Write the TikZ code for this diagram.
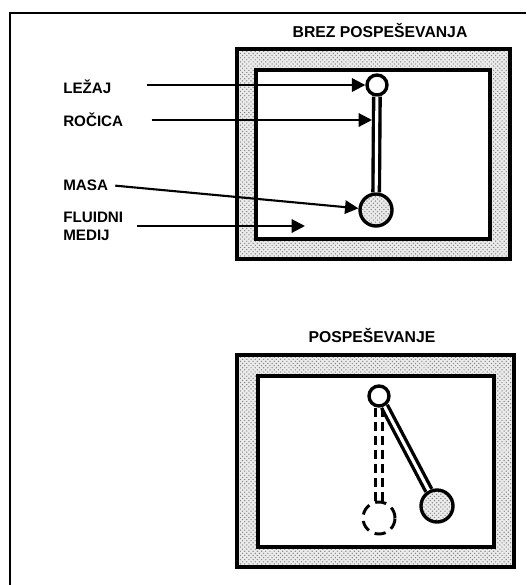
\documentclass[tikz,border=0pt]{standalone}
\usepackage{fontspec}
\setmainfont{Liberation Sans}
\usetikzlibrary{positioning,patterns,arrows.meta}

\begin{document}
\begin{tikzpicture}[x=0.025cm,y=-0.025cm,>={Triangle[length=9.5pt,width=9.5pt]},
  tag/.style = {inner sep = 0pt, anchor = west, font = \fontsize{10.8}{12}\bfseries},
  head/.style = {inner sep = 0pt, font = \fontsize{11.2}{12}\bfseries},
  stipple/.style = {preaction = {fill = black!8}, pattern = crosshatch dots, pattern color = black!50},
  wall/.style = {draw, line width = 2.5pt},
  pivot/.style = {draw, circle, fill = white, line width = 2.4pt, inner sep = 0pt, minimum size = .5cm},
  bob/.style = {draw, circle, stipple, line width = 2.4pt, inner sep = 0pt, minimum size = .8cm},
  ghost/.style = {draw, circle, line width = 2.1pt, inner sep = 0pt, minimum size = .8cm, dash pattern = on 8pt off 4.6pt},
  rod/.style = {line width = 2.4pt, double = white, double distance = 2.2pt},
  ghostrod/.style = {line width = 2.4pt, dash pattern = on 6.5pt off 3.5pt},
  pointer/.style = {->, line width = 1.5pt},
]
\useasboundingbox (0,0) rectangle (526,585);
\draw[line width = 1.8pt] (10,585) -- (10,13) -- (526,13);

%Upper housing
\draw[wall, stipple] (237,49) rectangle (510,259);
\draw[wall, fill = white] (256,70) rectangle (490,239);
\node (pivotA) at (377,85) [pivot] {};
\node (bobA) at (376,210) [bob] {};
\draw[rod] (pivotA) -- (bobA);
\node at (380,31) [head] {BREZ POSPEŠEVANJA};

\node (lezaj) at (63,87) [tag] {LEŽAJ};
\node (rocica) at (63,120) [tag] {ROČICA};
\node (masa) at (63,185) [tag] {MASA};
\node (fluidni) at (63,217) [tag] {FLUIDNI};
\node (medij) at (63,235) [tag] {MEDIJ};
\coordinate (rodA) at (372,120);
\coordinate (fluid) at (305,226);
\coordinate (fluidstart) at (137,226);

\draw[pointer, shorten <= 25pt] (lezaj.east |- pivotA) -- (pivotA);
\draw[pointer, shorten <= 20pt] (rocica.east |- rodA) -- (rodA);
\draw[pointer, shorten <= 5pt] (masa.east) -- (bobA);
\draw[pointer] (fluidstart) -- (fluid);

%Lower housing
\draw[wall, stipple] (237,355) rectangle (514,567);
\draw[wall, fill = white] (258,376) rectangle (494,547);
\node (pivotB) at (379,396) [pivot] {};
\node (bobB) at (437,506) [bob] {};
\node (ghostB) at (379,518) [ghost] {};
\draw[rod] (pivotB) -- (bobB);
\draw[ghostrod] ([xshift=-2.6pt]pivotB.south) -- ([xshift=-2.6pt]ghostB.north);
\draw[ghostrod] ([xshift=2.6pt]pivotB.south) -- ([xshift=2.6pt]ghostB.north);
\node at (372,336) [head] {POSPEŠEVANJE};
\end{tikzpicture}
\end{document}
